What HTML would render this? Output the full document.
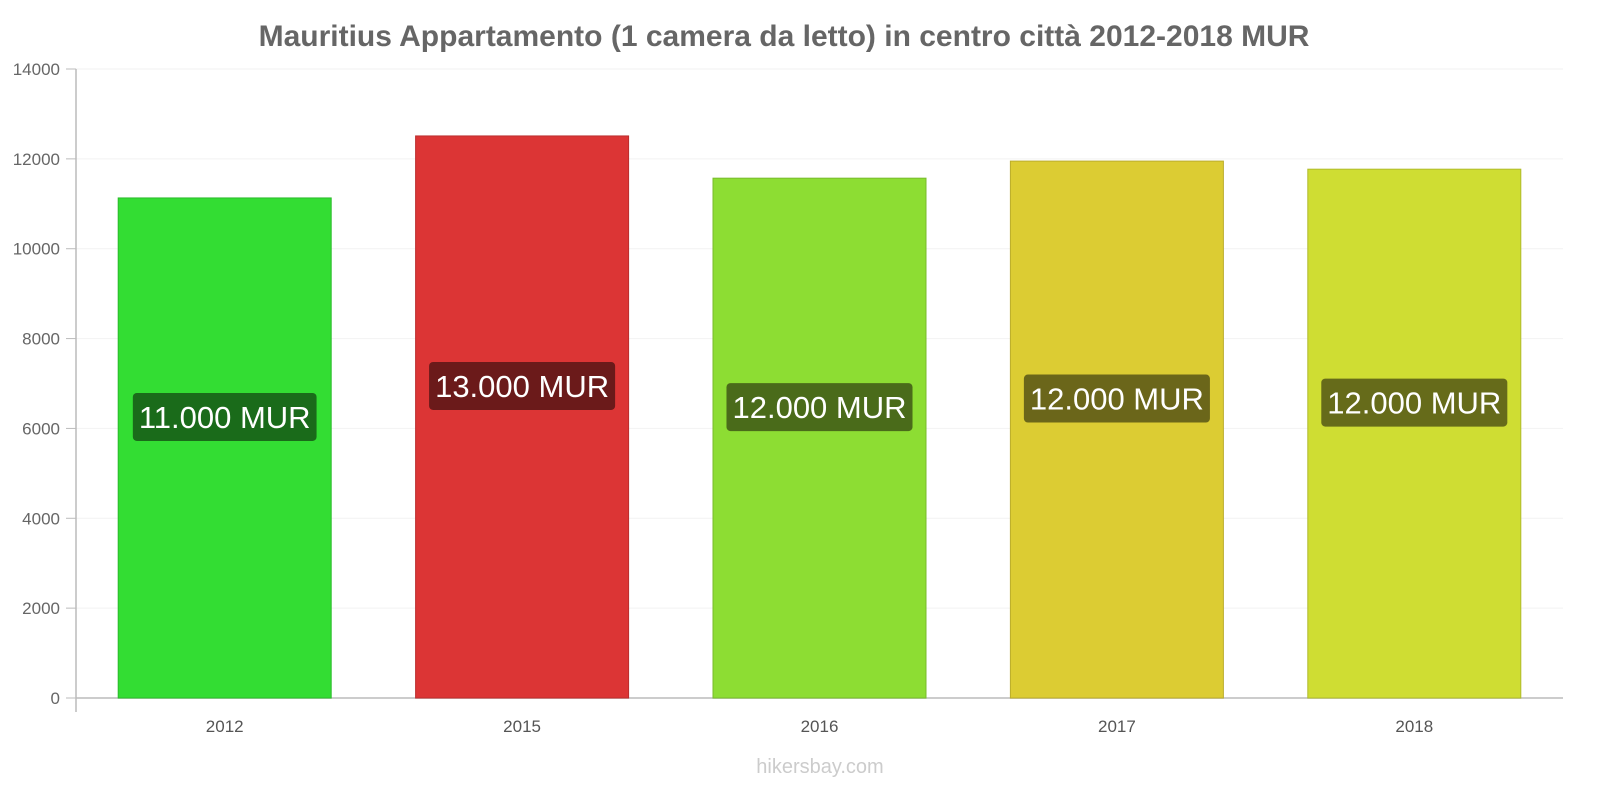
<!DOCTYPE html>
<html><head><meta charset="utf-8"><style>
body{margin:0;background:#fff;font-family:"Liberation Sans",sans-serif}
</style></head><body>
<svg id="chart" width="1600" height="800" xmlns="http://www.w3.org/2000/svg">
<text x="784" y="46" text-anchor="middle" font-size="30" font-weight="bold" fill="#666">Mauritius Appartamento (1 camera da letto) in centro città 2012-2018 MUR</text>
<text x="820" y="773" text-anchor="middle" font-size="20" fill="#ccc">hikersbay.com</text>
<g id="grid"></g><g id="bars"></g>
</svg>
<script>
const categories=["2012","2015","2016","2017","2018"];
const values=[11130,12510,11570,11950,11770];
const labels=["11.000 MUR","13.000 MUR","12.000 MUR","12.000 MUR","12.000 MUR"];
const yTicks=[0,2000,4000,6000,8000,10000,12000,14000];
const fills=["#33dd33","#dc3535","#8ddd33","#dccc33","#cfdd33"];
const strokes=["#2bbb2b","#bb2d2d","#78bb2b","#bbad2b","#b0bb2b"];
const labelBgs=["#1a6b1a","#6b1a1a","#4a6b1a","#6b661a","#666b1a"];
const NS="http://www.w3.org/2000/svg";
const x0=76,x1=1563,y0=698,y1=69,yMax=14000;
const y=v=>y0-(v/yMax)*(y0-y1);
const bw=(x1-x0)/categories.length;
const xc=i=>x0+bw*(i+0.5);
function mk(t,a,p){const e=document.createElementNS(NS,t);for(const k in a)e.setAttribute(k,a[k]);p.appendChild(e);return e;}
const g=document.getElementById('grid'),b=document.getElementById('bars');
yTicks.forEach(t=>{
 const l=mk('line',{x1:x0,x2:x1,y1:y(t),y2:y(t),stroke:t?'#f2f2f2':'#ccc','stroke-width':t?1:2},g);
 
 
 mk('line',{x1:x0-10,x2:x0,y1:y(t),y2:y(t),stroke:'#bbb'},g);
 const tx=mk('text',{x:x0-16,y:y(t)+6,'text-anchor':'end','font-size':17,fill:'#666'},g);
 tx.textContent=t;
 
 
});
const ax=mk('line',{x1:x0,x2:x0,y1:y1,y2:712,stroke:'#bbb','stroke-width':1.5},g);


categories.forEach((c,i)=>{
 const w=213,top=y(values[i]);
 const r=mk('rect',{x:xc(i)-w/2,y:top,width:w,height:y0-top,fill:fills[i],stroke:strokes[i]},b);
 
 
 const t=mk('text',{x:xc(i),y:732,'text-anchor':'middle','font-size':17,fill:'#555'},b);
 t.textContent=c;
 
 
 const cy=(top+y0)/2-31;
 const lt=mk('text',{x:xc(i),y:cy+11,'text-anchor':'middle','font-size':31,fill:'#fff'},b);
 lt.textContent=labels[i];
 
 
 const bb=lt.getBBox();
 const bg=mk('rect',{x:bb.x-6,y:cy-24,width:bb.width+12,height:48,rx:4,fill:labelBgs[i]},b);
 
 
 b.insertBefore(bg,lt);
});
</script>
</body></html>
